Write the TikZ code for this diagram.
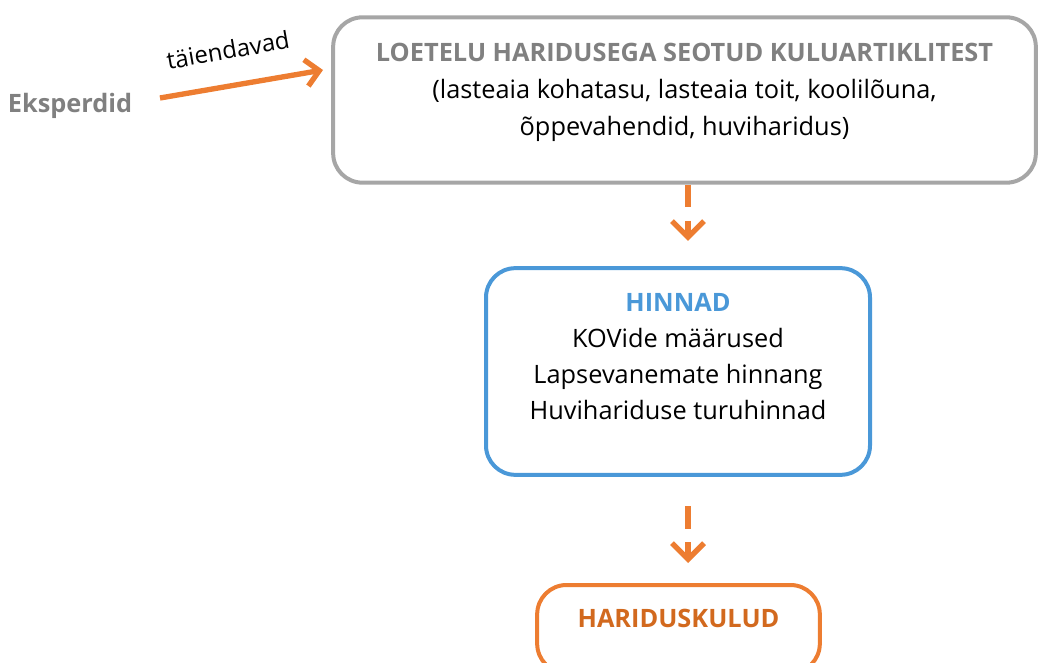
\documentclass[tikz,border=0pt]{standalone}
\usepackage{fontspec}
\setmainfont{Open Sans}
\usepackage{xcolor}
\usetikzlibrary{positioning,arrows.meta}

\definecolor{boxgray}{RGB}{166,166,166}
\definecolor{txtgray}{RGB}{128,128,128}
\definecolor{myorange}{RGB}{237,125,49}
\definecolor{darkorange}{RGB}{210,105,30}
\definecolor{myblue}{RGB}{74,152,216}

\tikzset{
  sketchbox/.style={draw, line width=3pt, rounded corners=22pt, inner sep=0pt},
  flowarr/.style={myorange, line width=4pt, dash pattern=on 17pt off 10pt,
    -{Straight Barb[length=12pt, width=24pt, line width=4pt]}},
}

\begin{document}
\begin{tikzpicture}[x=0.75pt,y=0.75pt,yscale=-1,xscale=1]
        \useasboundingbox (0,0) rectangle (1040,663);
        \clip (0,0) rectangle (1040,663);

        % boxes
        \node [sketchbox, boxgray, minimum width=527pt, minimum height=124pt] (lists) at (684.5,100) {};
        \node [sketchbox, myblue, minimum width=288pt, minimum height=155pt] (prices) at (678,371.5) {};
        \node [sketchbox, myorange, minimum width=212pt, minimum height=66pt] (costs) at (678.5,629) {};

        % texts
        \node [below=17pt of lists.north, align=center, font=\fontsize{19}{28}\selectfont] (liststxt)
            {\textcolor{txtgray}{\bfseries LOETELU HARIDUSEGA SEOTUD KULUARTIKLITEST}\\
             (lasteaia kohatasu, lasteaia toit, koolilõuna,\\
             õppevahendid, huviharidus)};
        \node [below=17pt of prices.north, align=center, font=\fontsize{19}{27}\selectfont] (pricestxt)
            {\textcolor{myblue}{\bfseries HINNAD}\\
             KOVide määrused\\
             Lapsevanemate hinnang\\
             Huvihariduse turuhinnad};
        \node [below=16pt of costs.north, font=\fontsize{19}{22}\selectfont\bfseries, text=darkorange] (coststxt) {HARIDUSKULUD};
        \node [font=\fontsize{19}{22}\selectfont\bfseries, text=txtgray] (experts) at (70,106) {Eksperdid};

        % arrows
        \coordinate (expstart) at (160,98);
        \coordinate (expend) at (323,70);
        \draw [myorange, line width=4pt, -{Straight Barb[length=10pt, width=20pt, line width=4pt]}] (expstart) -- (expend);
        \node [rotate=10, font=\fontsize{18}{20}\selectfont] (addlabel) at (228,50) {täiendavad};
        \draw [flowarr, shorten >=19pt] ([xshift=7.5pt]prices.north |- lists.south) -- ([xshift=7.5pt]prices.north);
        \draw [flowarr, shorten <=22pt, shorten >=15pt] ([xshift=7.5pt]prices.south) -- ([xshift=7.5pt]prices.south |- costs.north);
\end{tikzpicture}
\end{document}
